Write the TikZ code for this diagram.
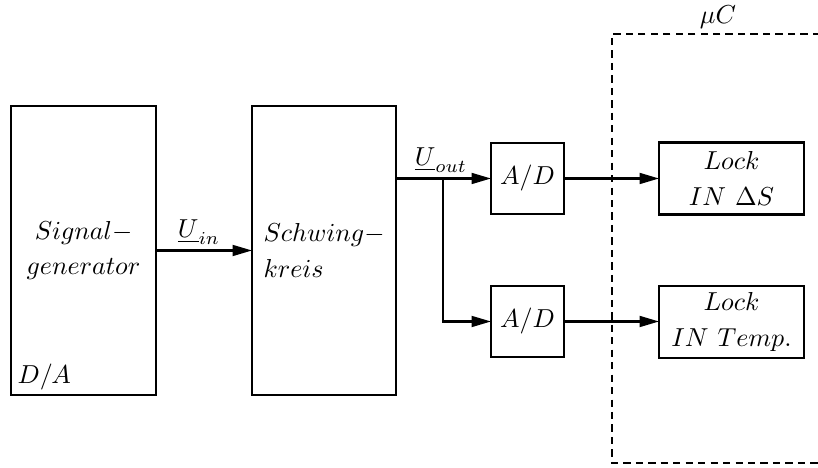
\documentclass[tikz,border=0pt]{standalone}
\usetikzlibrary{arrows.meta}
\newlength\pxu
\setlength\pxu{0.385pt}
\begin{document}
\begin{tikzpicture}[x=\pxu,y=-\pxu,
  line width=0.8pt,
  every node/.style={font=\fontsize{10.4}{13.5}\selectfont},
  blk/.style={draw,inner sep=0pt,outer sep=0pt},
  arr/.style={-{Triangle[length=7.5pt,width=4.2pt]}},
  bound/.style={dashed,dash pattern=on 2.8pt off 2pt}]
\useasboundingbox (0,0) rectangle (818,468);

% function blocks
\node[blk,minimum width={145*\pxu},minimum height={289*\pxu},align=center]
  (sig) at (83.5,250.5) {$Signal-$\\$generator$};
\node[anchor=west] (da) at (8,377) {$D/A$};
\node[blk,minimum width={144*\pxu},minimum height={289*\pxu},align=left]
  (sch) at (324,250.5) {$Schwing-$\\$kreis$};
\node[blk,minimum width={73*\pxu},minimum height={71*\pxu}] (ad1) at (527.5,178.5) {$A/D$};
\node[blk,minimum width={73*\pxu},minimum height={71*\pxu}] (ad2) at (527.5,321.5) {$A/D$};
\node[blk,minimum width={145*\pxu},minimum height={72*\pxu},align=center]
  (lk1) at (731.5,178.5) {$Lock$\\$IN\ \Delta S$};
\node[blk,minimum width={145*\pxu},minimum height={72*\pxu},align=center]
  (lk2) at (731.5,322) {$Lock$\\$IN\ Temp.$};

% microcontroller boundary
\coordinate (mtl) at (612,34);
\coordinate (mbl) at (612,463);
\draw[bound] (820,34) -- (mtl) -- (mbl) -- (820,463);
\node (muc) at (718,17) {$\mu C$};

% signal paths
\draw[arr] (sig) -- (sch);
\node (uin) at (199,232) {$\underline{U}_{in}$};
\draw[arr] (sch.east |- ad1.west) -- (ad1.west);
\node (uout) at (441,160) {$\underline{U}_{out}$};
\coordinate (br) at (443,178.5);
\draw[arr] (br) |- (ad2.west);
\draw[arr] (ad1.east) -- (lk1.west);
\draw[arr] (ad2.east) -- (lk2.west |- ad2.east);
\end{tikzpicture}
\end{document}
